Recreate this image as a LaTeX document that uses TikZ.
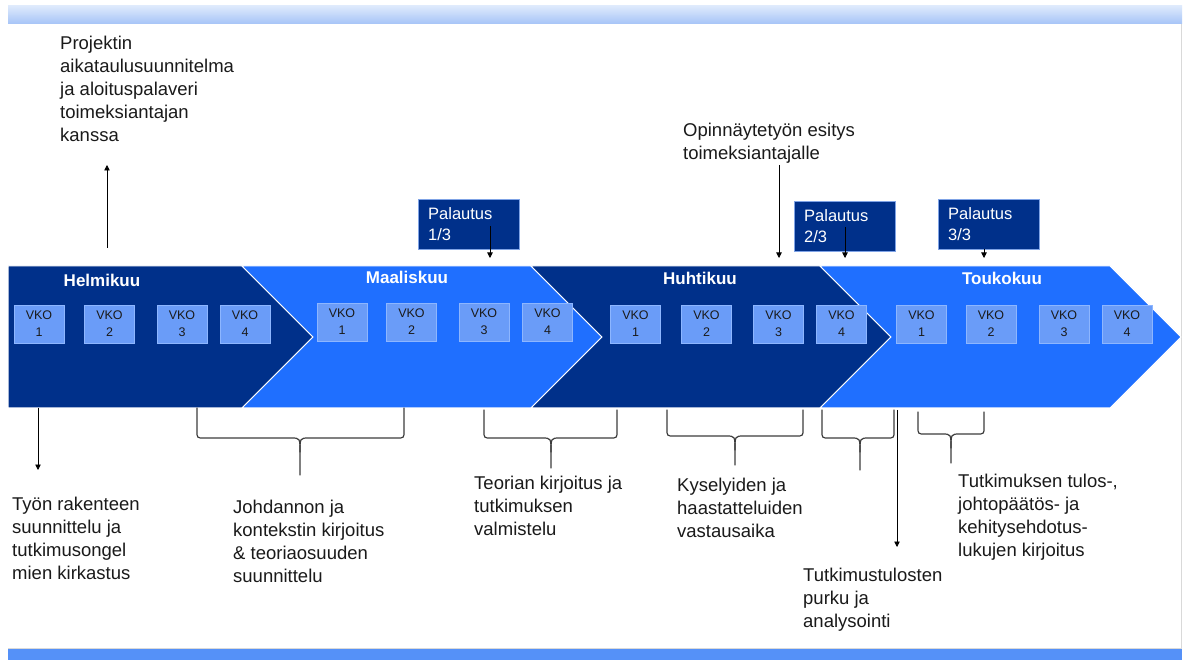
\documentclass[tikz,border=0pt]{standalone}
\usepackage{fontspec}
\setmainfont{Liberation Sans}
\usetikzlibrary{arrows.meta}
\definecolor{navy}{HTML}{00308A}
\definecolor{brightblue}{HTML}{1F6FFF}
\definecolor{vkofill}{HTML}{6A9CF8}
\definecolor{vkoline}{HTML}{8DB6FF}
\definecolor{bandtop}{HTML}{DDE9FC}
\definecolor{bandbot}{HTML}{A6C4F7}
\definecolor{bandlow}{HTML}{5591F8}
\definecolor{txt}{HTML}{1A1A1A}
\definecolor{bracec}{HTML}{3C3C3C}
\definecolor{palline}{HTML}{7FA3E6}
\newcommand\mybrace[6]{%
  \draw[brace] (#1,#4) -- (#1,{#5-7}) .. controls (#1,#5) .. ({#1+7},#5) -- ({#3-9},#5)
    .. controls (#3,#5) .. (#3,{#5+14}) -- (#3,#6);
  \draw[brace] (#3,{#5+14}) .. controls (#3,#5) .. ({#3+9},#5) -- ({#2-7},#5)
    .. controls (#2,#5) .. (#2,{#5-7}) -- (#2,#4);}
\begin{document}
\begin{tikzpicture}[x=1pt,y=-1pt,
  chev/.style={draw=white,line width=1pt,line join=miter},
  vko/.style={rectangle,fill=vkofill,draw=vkoline,line width=0.6pt,minimum width=50pt,minimum height=38pt,inner sep=0pt,align=center,font=\fontsize{12.5}{17}\selectfont,text=txt},
  month/.style={font=\fontsize{17}{20}\selectfont\bfseries,text=white,anchor=base,inner sep=0pt},
  label/.style={anchor=base west,align=left,font=\fontsize{18.5}{23}\selectfont,text=txt,inner sep=0pt},
  palbox/.style={rectangle,fill=navy,draw=palline,line width=0.6pt,minimum width=101pt,minimum height=50pt,inner sep=0pt},
  paltext/.style={anchor=base west,align=left,font=\fontsize{16.5}{21}\selectfont,text=white,inner sep=0pt},
  arr/.style={draw=black,line width=0.8pt,-{Triangle[length=5.5pt,width=5.5pt]}},
  brace/.style={draw=bracec,line width=1.2pt,line join=round,line cap=round}
]
\useasboundingbox (0,0) rectangle (1187,660);
\fill[white] (0,0) rectangle (1187,660);
% bands
\shade[top color=bandtop,bottom color=bandbot] (8,6) rectangle (1182,24);
\draw[black!15,line width=0.6pt] (1181,24) -- (1181,648);
\fill[bandlow] (8,648) rectangle (1182,660);
\draw[black!15,line width=0.6pt] (8,648) -- (1182,648);
% chevrons
\path[chev,fill=navy] (8,266) -- (242,266) -- (313,337) -- (242,408) -- (8,408) -- cycle;
\path[chev,fill=brightblue] (242,266) -- (531,266) -- (602,337) -- (531,408) -- (242,408) -- (313,337) -- cycle;
\path[chev,fill=navy] (531,266) -- (820,266) -- (891,337) -- (820,408) -- (531,408) -- (602,337) -- cycle;
\path[chev,fill=brightblue] (820,266) -- (1110,266) -- (1181,337) -- (1110,408) -- (820,408) -- (891,337) -- cycle;
% months
\node[month] (helmi) at (102,287) {Helmikuu};
\node[month] (maalis) at (407,284) {Maaliskuu};
\node[month] (huhti) at (700,285) {Huhtikuu};
\node[month] (touko) at (1002,285) {Toukokuu};
% weeks
\node[vko] (h1) at (39,324) {VKO\\1};
\node[vko] (h2) at (109.5,324) {VKO\\2};
\node[vko] (h3) at (182,324) {VKO\\3};
\node[vko] (h4) at (245,324) {VKO\\4};
\node[vko] (m1) at (342,322) {VKO\\1};
\node[vko] (m2) at (411.5,322) {VKO\\2};
\node[vko] (m3) at (484,322) {VKO\\3};
\node[vko] (m4) at (547.5,322) {VKO\\4};
\node[vko] (u1) at (635.5,324) {VKO\\1};
\node[vko] (u2) at (706.5,324) {VKO\\2};
\node[vko] (u3) at (778.5,324) {VKO\\3};
\node[vko] (u4) at (841.5,324) {VKO\\4};
\node[vko] (t1) at (921.5,324) {VKO\\1};
\node[vko] (t2) at (991,324) {VKO\\2};
\node[vko] (t3) at (1064,324) {VKO\\3};
\node[vko] (t4) at (1127,324) {VKO\\4};
% palautus boxes
\node[palbox] (p1) at (468.5,224) {};
\node[paltext] (p1t) at (428,241) {Palautus\\1/3};
\node[palbox] (p2) at (844.5,226) {};
\node[paltext] (p2t) at (804,243) {Palautus\\2/3};
\node[palbox] (p3) at (988.5,224) {};
\node[paltext] (p3t) at (948,241) {Palautus\\3/3};
\coordinate (p1s) at (490,226); \coordinate (p1e) at (490,258);
\coordinate (p2s) at (845,227); \coordinate (p2e) at (845,258);
\coordinate (p3s) at (984,249); \coordinate (p3e) at (984,258);
\draw[arr] (p1s) -- (p1e);
\draw[arr] (p2s) -- (p2e);
\draw[arr] (p3s) -- (p3e);
% top texts and arrows
\node[label] (proj) at (60,142) {Projektin\\aikataulusuunnitelma\\ja aloituspalaveri\\toimeksiantajan\\kanssa};
\coordinate (projs) at (107,248); \coordinate (proje) at (107,165);
\draw[arr] (projs) -- (proje);
\node[label] (opin) at (683,160) {Opinnäytetyön esitys\\toimeksiantajalle};
\coordinate (opins) at (779,165); \coordinate (opine) at (779,258);
\draw[arr] (opins) -- (opine);
% bottom
\coordinate (tyos) at (38,408); \coordinate (tyoe) at (38,470);
\draw[arr] (tyos) -- (tyoe);
\node[label] (tyon) at (12,579) {Työn rakenteen\\suunnittelu ja\\tutkimusongel\\mien kirkastus};
\mybrace{197}{404}{300}{408}{438}{475}
\node[label] (johd) at (233,582) {Johdannon ja\\kontekstin kirjoitus\\\& teoriaosuuden\\suunnittelu};
\mybrace{484}{617}{551}{410}{438}{468}
\node[label] (teor) at (474,535) {Teorian kirjoitus ja\\tutkimuksen\\valmistelu};
\mybrace{667}{803}{735}{410}{436}{465}
\node[label] (kysel) at (677,537) {Kyselyiden ja\\haastatteluiden\\vastausaika};
\mybrace{822}{894}{860}{410}{438}{470}
\coordinate (anas) at (897,410); \coordinate (anae) at (897,547);
\draw[arr] (anas) -- (anae);
\node[label] (tutkt) at (803,627) {Tutkimustulosten\\purku ja\\analysointi};
\mybrace{918}{984}{951}{412}{434}{463}
\node[label] (tutkm) at (958,556) {Tutkimuksen tulos-,\\johtopäätös- ja\\kehitysehdotus-\\lukujen kirjoitus};
\end{tikzpicture}
\end{document}
